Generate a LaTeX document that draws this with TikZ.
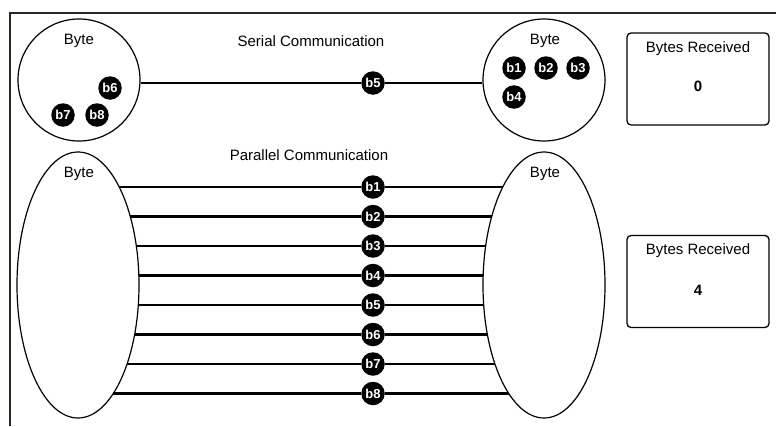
\documentclass[tikz,border=0pt]{standalone}
\usepackage{fontspec}
\setmainfont{Liberation Sans}
\usetikzlibrary{shapes.geometric}
\tikzset{
  lbl/.style={font=\fontsize{15}{17}\selectfont, inner sep=0pt},
  num/.style={font=\fontsize{15}{17}\bfseries\selectfont, inner sep=0pt},
  ball/.style={circle, fill=black, minimum size=23.5pt, inner sep=0pt, text=white, font=\fontsize{13}{14}\bfseries\selectfont},
  holder/.style={circle, draw=black, line width=1.2pt, minimum size=122pt, inner sep=0pt},
  oval/.style={ellipse, draw=black, line width=1.2pt, minimum width=122pt, minimum height=266pt, inner sep=0pt},
  wire/.style={line width=2.2pt, black},
  counter/.style={draw=black, line width=1.3pt, rounded corners=4pt, minimum width=142pt, minimum height=92pt, inner sep=0pt},
  frame/.style={line width=2pt, draw={rgb,255:red,40;green,40;blue,30}}
}
\begin{document}
\begin{tikzpicture}[x=1pt,y=-1pt]
\useasboundingbox (0,0) rectangle (776,426);
\draw[frame] (10,426) -- (10,13) -- (776,13);
% serial
\node[holder] (lc) at (79,80) {};
\node[holder] (rc) at (544,80) {};
\node[lbl] (lcb) at (79,41) {Byte};
\node[lbl] (rcb) at (545,41) {Byte};
\node[lbl] (st) at (311,41) {Serial Communication};
\node[ball] (s5) at (373,83) {b5};
\draw[wire] (lc.east |- s5) -- (s5) -- (rc.west |- s5);
\node[ball] (s6) at (110,88) {b6};
\node[ball] (s7) at (63,115) {b7};
\node[ball] (s8) at (97,115) {b8};
\node[ball] (s1) at (514,68) {b1};
\node[ball] (s2) at (546,68) {b2};
\node[ball] (s3) at (578,68) {b3};
\node[ball] (s4) at (514,97) {b4};
\node[counter] (c1) at (698,79) {};
\node[lbl] (c1t) at (698,49) {Bytes Received};
\node[num] (c1n) at (698,86) {0};
% parallel
\node[oval] (le) at (78,285) {};
\node[oval] (re) at (544,285) {};
\node[lbl] (leb) at (79,174) {Byte};
\node[lbl] (reb) at (545,174) {Byte};
\node[lbl] (pt) at (309,155) {Parallel Communication};
\foreach \i in {1,...,8}{
  \pgfmathsetmacro{\yy}{187+29.5*(\i-1)}
  \pgfmathsetmacro{\dx}{61*sqrt(1-((\yy-285)/133)^2)}
  \coordinate (la\i) at ({78+\dx},\yy);
  \coordinate (ra\i) at ({544-\dx},\yy);
  \node[ball] (p\i) at (373,\yy) {b\i};
  \draw[wire] (la\i) -- (p\i) -- (ra\i);
}
\node[counter] (c2) at (698,281.5) {};
\node[lbl] (c2t) at (698,251) {Bytes Received};
\node[num] (c2n) at (698,290) {4};
\end{tikzpicture}
\end{document}
